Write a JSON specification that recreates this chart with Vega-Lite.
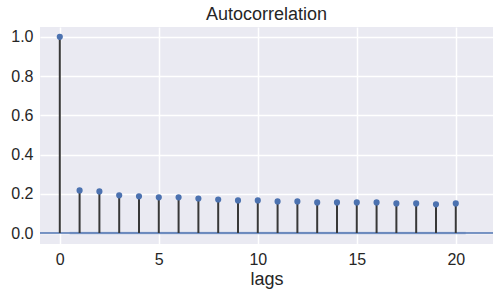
{
  "$schema": "https://vega.github.io/schema/vega-lite/v6.json",
  "autosize": {"type": "none"},
  "width": 453,
  "height": 217,
  "padding": {"left": 40, "top": 27, "right": 0, "bottom": 54},
  "background": "white",
  "config": {
    "view": {"fill": "#EAEAF2", "stroke": null},
    "font": "Liberation Sans",
    "axis": {
      "domain": false, "ticks": false, "gridColor": "white", "gridWidth": 1.5,
      "labelFont": "Liberation Sans", "labelFontSize": 16, "labelColor": "#262626",
      "titleFont": "Liberation Sans", "titleFontSize": 18, "titleColor": "#262626", "titleFontWeight": "normal"
    },
    "title": {"font": "Liberation Sans", "fontSize": 18, "fontWeight": "normal", "color": "#262626", "offset": 3}
  },
  "title": "Autocorrelation",
  "datasets": {
    "acf": [
      {"lag": 0, "acf": 1.0, "base": 0},
      {"lag": 1, "acf": 0.217, "base": 0},
      {"lag": 2, "acf": 0.212, "base": 0},
      {"lag": 3, "acf": 0.192, "base": 0},
      {"lag": 4, "acf": 0.187, "base": 0},
      {"lag": 5, "acf": 0.182, "base": 0},
      {"lag": 6, "acf": 0.182, "base": 0},
      {"lag": 7, "acf": 0.176, "base": 0},
      {"lag": 8, "acf": 0.171, "base": 0},
      {"lag": 9, "acf": 0.166, "base": 0},
      {"lag": 10, "acf": 0.166, "base": 0},
      {"lag": 11, "acf": 0.161, "base": 0},
      {"lag": 12, "acf": 0.161, "base": 0},
      {"lag": 13, "acf": 0.156, "base": 0},
      {"lag": 14, "acf": 0.156, "base": 0},
      {"lag": 15, "acf": 0.156, "base": 0},
      {"lag": 16, "acf": 0.156, "base": 0},
      {"lag": 17, "acf": 0.151, "base": 0},
      {"lag": 18, "acf": 0.151, "base": 0},
      {"lag": 19, "acf": 0.146, "base": 0},
      {"lag": 20, "acf": 0.151, "base": 0}
    ],
    "band": [
      {"lag": 0.5, "lo": -0.007, "hi": 0.007},
      {"lag": 20.5, "lo": -0.007, "hi": 0.007}
    ],
    "zero": [{"base": 0}]
  },
  "layer": [
    {
      "data": {"name": "band"},
      "mark": {"type": "area", "color": "#4C72B0", "opacity": 0.25},
      "encoding": {
        "x": {"field": "lag", "type": "quantitative", "scale": {"domain": [-1, 21.88], "nice": false, "zero": false},
              "axis": {"values": [0, 5, 10, 15, 20], "title": "lags", "labelPadding": 7, "titlePadding": 3, "format": "d"}},
        "y": {"field": "lo", "type": "quantitative", "scale": {"domain": [-0.056, 1.05], "nice": false},
              "axis": {"values": [0, 0.2, 0.4, 0.6, 0.8, 1.0], "format": ".1f", "title": null, "labelPadding": 7}},
        "y2": {"field": "hi"}
      }
    },
    {
      "data": {"name": "zero"},
      "mark": {"type": "rule", "color": "#4C72B0", "strokeWidth": 1.5},
      "encoding": {"y": {"field": "base", "type": "quantitative"}}
    },
    {
      "data": {"name": "acf"},
      "mark": {"type": "rule", "color": "#383838", "strokeWidth": 2},
      "encoding": {
        "x": {"field": "lag", "type": "quantitative"},
        "y": {"field": "acf", "type": "quantitative"},
        "y2": {"field": "base"}
      }
    },
    {
      "data": {"name": "acf"},
      "mark": {"type": "circle", "color": "#4C72B0", "opacity": 1, "size": 38},
      "encoding": {
        "x": {"field": "lag", "type": "quantitative"},
        "y": {"field": "acf", "type": "quantitative"}
      }
    }
  ]
}
